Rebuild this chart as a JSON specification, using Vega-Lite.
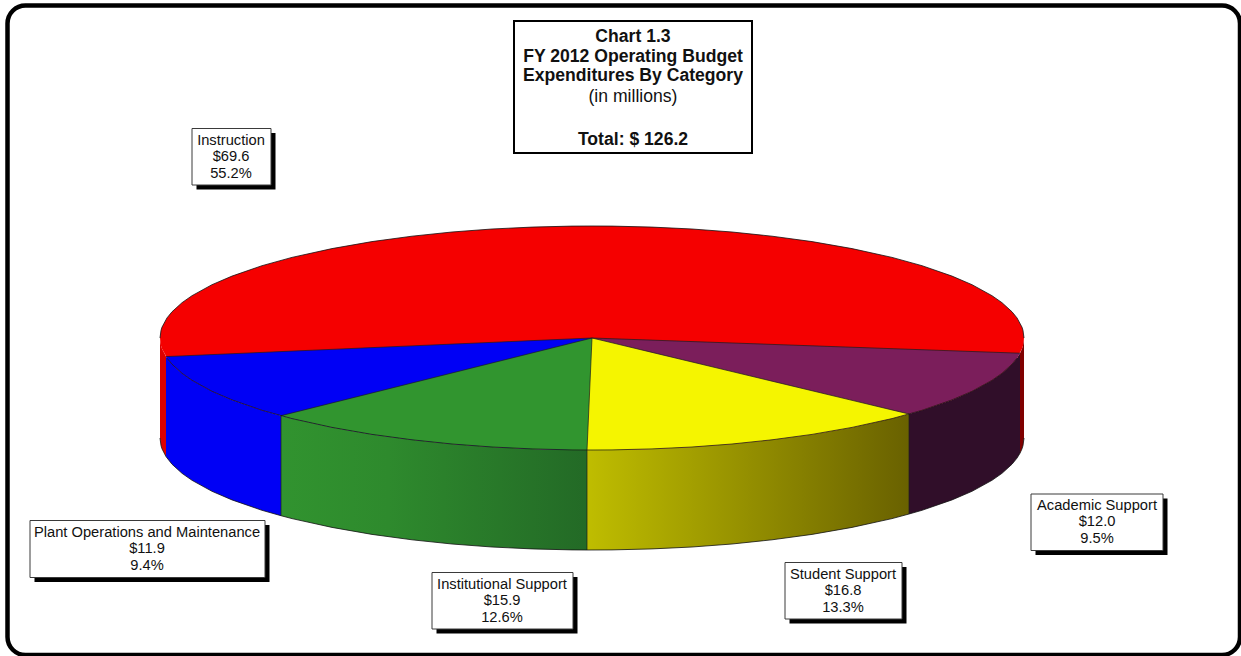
{
  "$schema": "https://vega.github.io/schema/vega-lite/v6.json",
  "width": 1241,
  "height": 656,
  "padding": 0,
  "autosize": "none",
  "background": "white",
  "view": {"stroke": null},
  "config": {"text": {"font": "Liberation Sans", "color": "#111111"}},
  "datasets": {
    "disc": [
      {"x":160,"y":338,"y2":338},{"x":161,"y":330.4,"y2":345.6},{"x":162,"y":327.2,"y2":348.8},{"x":167,"y":317.9,"y2":358.1},{"x":172,"y":311.8,"y2":364.2},{"x":182,"y":302.7,"y2":373.3},{"x":192,"y":295.7,"y2":380.3},{"x":212,"y":284.7,"y2":391.3},{"x":232,"y":276.1,"y2":399.9},{"x":262,"y":265.7,"y2":410.3},{"x":292,"y":257.4,"y2":418.6},{"x":332,"y":248.6,"y2":427.4},{"x":372,"y":241.6,"y2":434.4},{"x":412,"y":236.2,"y2":439.8},{"x":452,"y":232,"y2":444},{"x":492,"y":229,"y2":447},{"x":532,"y":227.1,"y2":448.9},{"x":572,"y":226.1,"y2":449.9},{"x":592,"y":226,"y2":450},
      {"x":612,"y":226.1,"y2":449.9},{"x":652,"y":227.1,"y2":448.9},{"x":692,"y":229,"y2":447},{"x":732,"y":232,"y2":444},{"x":772,"y":236.2,"y2":439.8},{"x":812,"y":241.6,"y2":434.4},{"x":852,"y":248.6,"y2":427.4},{"x":892,"y":257.4,"y2":418.6},{"x":922,"y":265.7,"y2":410.3},{"x":952,"y":276.1,"y2":399.9},{"x":972,"y":284.7,"y2":391.3},{"x":992,"y":295.7,"y2":380.3},{"x":1002,"y":302.7,"y2":373.3},{"x":1012,"y":311.8,"y2":364.2},{"x":1017,"y":317.9,"y2":358.1},{"x":1022,"y":327.2,"y2":348.8},{"x":1023,"y":330.4,"y2":345.6},{"x":1024,"y":338,"y2":338}
    ],
    "walls": [
      {"part":"Instruction left","x":160,"y":338,"y2":438},{"part":"Instruction left","x":161,"y":345.6,"y2":445.6},{"part":"Instruction left","x":162,"y":348.8,"y2":448.8},{"part":"Instruction left","x":166,"y":356.6,"y2":456.6},
      {"part":"Plant","x":166,"y":356.6,"y2":456.6},{"part":"Plant","x":172,"y":364.2,"y2":464.2},{"part":"Plant","x":182,"y":373.3,"y2":473.3},{"part":"Plant","x":192,"y":380.3,"y2":480.3},{"part":"Plant","x":212,"y":391.3,"y2":491.3},{"part":"Plant","x":232,"y":399.9,"y2":499.9},{"part":"Plant","x":262,"y":410.3,"y2":510.3},{"part":"Plant","x":281,"y":415.7,"y2":515.7},
      {"part":"Institutional","x":281,"y":415.7,"y2":515.7},{"part":"Institutional","x":292,"y":418.6,"y2":518.6},{"part":"Institutional","x":332,"y":427.4,"y2":527.4},{"part":"Institutional","x":372,"y":434.4,"y2":534.4},{"part":"Institutional","x":412,"y":439.8,"y2":539.8},{"part":"Institutional","x":452,"y":444,"y2":544},{"part":"Institutional","x":492,"y":447,"y2":547},{"part":"Institutional","x":532,"y":448.9,"y2":548.9},{"part":"Institutional","x":572,"y":449.9,"y2":549.9},{"part":"Institutional","x":587,"y":450,"y2":550},
      {"part":"Student","x":587,"y":450,"y2":550},{"part":"Student","x":612,"y":449.9,"y2":549.9},{"part":"Student","x":652,"y":448.9,"y2":548.9},{"part":"Student","x":692,"y":447,"y2":547},{"part":"Student","x":732,"y":444,"y2":544},{"part":"Student","x":772,"y":439.8,"y2":539.8},{"part":"Student","x":812,"y":434.4,"y2":534.4},{"part":"Student","x":852,"y":427.4,"y2":527.4},{"part":"Student","x":892,"y":418.6,"y2":518.6},{"part":"Student","x":909,"y":414,"y2":514},
      {"part":"Academic","x":909,"y":414,"y2":514},{"part":"Academic","x":922,"y":410.3,"y2":510.3},{"part":"Academic","x":952,"y":399.9,"y2":499.9},{"part":"Academic","x":972,"y":391.3,"y2":491.3},{"part":"Academic","x":992,"y":380.3,"y2":480.3},{"part":"Academic","x":1002,"y":373.3,"y2":473.3},{"part":"Academic","x":1012,"y":364.2,"y2":464.2},{"part":"Academic","x":1017,"y":358.1,"y2":458.1},{"part":"Academic","x":1020,"y":353.2,"y2":453.2},
      {"part":"Instruction right","x":1020,"y":353.2,"y2":453.2},{"part":"Instruction right","x":1022,"y":348.8,"y2":448.8},{"part":"Instruction right","x":1023,"y":345.6,"y2":445.6},{"part":"Instruction right","x":1024,"y":338,"y2":438}
    ],
    "plantSlice": [
      {"x":166,"y":356.6,"y2":356.6},{"x":172,"y":356.3,"y2":364.2},{"x":182,"y":355.9,"y2":373.3},{"x":192,"y":355.5,"y2":380.3},{"x":212,"y":354.6,"y2":391.3},{"x":232,"y":353.7,"y2":399.9},{"x":262,"y":352.4,"y2":410.3},{"x":281,"y":351.6,"y2":415.7},{"x":292,"y":351.1,"y2":418.6},{"x":332,"y":349.4,"y2":427.4},{"x":372,"y":347.6,"y2":434.4},{"x":412,"y":345.9,"y2":439.8},{"x":452,"y":344.1,"y2":444},{"x":492,"y":342.4,"y2":447},{"x":532,"y":340.6,"y2":448.9},{"x":572,"y":338.9,"y2":449.9},{"x":592,"y":338,"y2":450}
    ],
    "institutionalSlice": [
      {"x":281,"y":415.7,"y2":415.7},{"x":292,"y":413,"y2":418.6},{"x":332,"y":403,"y2":427.4},{"x":372,"y":393,"y2":434.4},{"x":412,"y":383,"y2":439.8},{"x":452,"y":373,"y2":444},{"x":492,"y":363,"y2":447},{"x":532,"y":353,"y2":448.9},{"x":572,"y":343,"y2":449.9},{"x":592,"y":338,"y2":450}
    ],
    "academicSlice": [
      {"x":592,"y":338,"y2":450},{"x":612,"y":338.7,"y2":449.9},{"x":652,"y":340.1,"y2":448.9},{"x":692,"y":341.6,"y2":447},{"x":732,"y":343,"y2":444},{"x":772,"y":344.4,"y2":439.8},{"x":812,"y":345.8,"y2":434.4},{"x":852,"y":347.2,"y2":427.4},{"x":892,"y":348.7,"y2":418.6},{"x":909,"y":349.3,"y2":414},{"x":922,"y":349.7,"y2":410.3},{"x":952,"y":350.8,"y2":399.9},{"x":972,"y":351.5,"y2":391.3},{"x":992,"y":352.2,"y2":380.3},{"x":1002,"y":352.6,"y2":373.3},{"x":1012,"y":352.9,"y2":364.2},{"x":1017,"y":353.1,"y2":358.1},{"x":1020,"y":353.2,"y2":353.2}
    ],
    "studentSlice": [
      {"x":587,"y":450,"y2":450},{"x":592,"y":338,"y2":450},{"x":612,"y":342.8,"y2":449.9},{"x":652,"y":352.4,"y2":448.9},{"x":692,"y":362,"y2":447},{"x":732,"y":371.6,"y2":444},{"x":772,"y":381.2,"y2":439.8},{"x":812,"y":390.7,"y2":434.4},{"x":852,"y":400.3,"y2":427.4},{"x":892,"y":409.9,"y2":418.6},{"x":909,"y":414,"y2":414}
    ],
    "seams": [
      {"x":166,"y":356.6,"x2":592,"y2":338},{"x":281,"y":415.7,"x2":592,"y2":338},{"x":587,"y":450,"x2":592,"y2":338},{"x":909,"y":414,"x2":592,"y2":338},{"x":1020,"y":353.2,"x2":592,"y2":338},
      {"x":281,"y":415.7,"x2":281,"y2":515.7},{"x":587,"y":450,"x2":587,"y2":550},{"x":909,"y":414,"x2":909,"y2":514}
    ],
    "callouts": [
      {"category":"Instruction","amount":69.6,"share":0.552,"x":192,"x2":271,"center":231,"y":128.5,"y2":185},
      {"category":"Academic Support","amount":12.0,"share":0.095,"x":1031,"x2":1163,"center":1097,"y":494,"y2":550.5},
      {"category":"Student Support","amount":16.8,"share":0.133,"x":785,"x2":902,"center":843,"y":562.5,"y2":619},
      {"category":"Institutional Support","amount":15.9,"share":0.126,"x":432,"x2":573,"center":502,"y":572.5,"y2":629},
      {"category":"Plant Operations and Maintenance","amount":11.9,"share":0.094,"x":30,"x2":265,"center":147,"y":520.5,"y2":577.5}
    ],
    "titleBox": [{"x":514,"x2":752,"y":21,"y2":153}],
    "titleBold": [
      {"text":"Chart 1.3","x":633,"y":37},
      {"text":"FY 2012 Operating Budget","x":633,"y":57},
      {"text":"Expenditures By Category","x":633,"y":76},
      {"text":"Total: $ 126.2","x":633,"y":140}
    ],
    "titlePlain": [{"text":"(in millions)","x":633,"y":97}],
    "frame": [{"x":7.5,"x2":1240,"y":5.5,"y2":655}]
  },
  "layer": [
    {
      "data": {"name": "frame"},
      "mark": {"type": "rect", "filled": false, "stroke": "black", "strokeWidth": 4.5, "cornerRadius": 18},
      "encoding": {
        "x": {"field": "x", "type": "quantitative", "axis": null, "scale": {"domain": [0, 1241]}},
        "x2": {"field": "x2"},
        "y": {"field": "y", "type": "quantitative", "axis": null, "scale": {"domain": [656, 0]}},
        "y2": {"field": "y2"}
      }
    },
    {
      "data": {"name": "walls"},
      "transform": [{"filter": "datum.part == 'Instruction left'"}],
      "mark": {"type": "area", "fill": "#dd0000"},
      "encoding": {
        "x": {"field": "x", "type": "quantitative", "axis": null, "scale": {"domain": [0, 1241]}},
        "y": {"field": "y", "type": "quantitative", "axis": null, "scale": {"domain": [656, 0]}},
        "y2": {"field": "y2"}
      }
    },
    {
      "data": {"name": "walls"},
      "transform": [{"filter": "datum.part == 'Plant'"}],
      "mark": {"type": "area", "fill": "#0000f5"},
      "encoding": {
        "x": {"field": "x", "type": "quantitative", "axis": null, "scale": {"domain": [0, 1241]}},
        "y": {"field": "y", "type": "quantitative", "axis": null, "scale": {"domain": [656, 0]}},
        "y2": {"field": "y2"}
      }
    },
    {
      "data": {"name": "walls"},
      "transform": [{"filter": "datum.part == 'Institutional'"}],
      "mark": {"type": "area", "fill": {"gradient": "linear", "x1": 0, "x2": 1, "y1": 0, "y2": 0, "stops": [{"offset": 0, "color": "#31932f"}, {"offset": 0.35, "color": "#2e8a2d"}, {"offset": 1, "color": "#236a26"}]}},
      "encoding": {
        "x": {"field": "x", "type": "quantitative", "axis": null, "scale": {"domain": [0, 1241]}},
        "y": {"field": "y", "type": "quantitative", "axis": null, "scale": {"domain": [656, 0]}},
        "y2": {"field": "y2"}
      }
    },
    {
      "data": {"name": "walls"},
      "transform": [{"filter": "datum.part == 'Student'"}],
      "mark": {"type": "area", "fill": {"gradient": "linear", "x1": 0, "x2": 1, "y1": 0, "y2": 0, "stops": [{"offset": 0, "color": "#bfbd00"}, {"offset": 1, "color": "#696100"}]}},
      "encoding": {
        "x": {"field": "x", "type": "quantitative", "axis": null, "scale": {"domain": [0, 1241]}},
        "y": {"field": "y", "type": "quantitative", "axis": null, "scale": {"domain": [656, 0]}},
        "y2": {"field": "y2"}
      }
    },
    {
      "data": {"name": "walls"},
      "transform": [{"filter": "datum.part == 'Academic'"}],
      "mark": {"type": "area", "fill": "#300e29"},
      "encoding": {
        "x": {"field": "x", "type": "quantitative", "axis": null, "scale": {"domain": [0, 1241]}},
        "y": {"field": "y", "type": "quantitative", "axis": null, "scale": {"domain": [656, 0]}},
        "y2": {"field": "y2"}
      }
    },
    {
      "data": {"name": "walls"},
      "transform": [{"filter": "datum.part == 'Instruction right'"}],
      "mark": {"type": "area", "fill": "#800000"},
      "encoding": {
        "x": {"field": "x", "type": "quantitative", "axis": null, "scale": {"domain": [0, 1241]}},
        "y": {"field": "y", "type": "quantitative", "axis": null, "scale": {"domain": [656, 0]}},
        "y2": {"field": "y2"}
      }
    },
    {
      "data": {"name": "disc"},
      "mark": {"type": "area", "fill": "#f50000"},
      "encoding": {
        "x": {"field": "x", "type": "quantitative", "axis": null, "scale": {"domain": [0, 1241]}},
        "y": {"field": "y", "type": "quantitative", "axis": null, "scale": {"domain": [656, 0]}},
        "y2": {"field": "y2"}
      }
    },
    {
      "data": {"name": "plantSlice"},
      "mark": {"type": "area", "fill": "#0000f5"},
      "encoding": {
        "x": {"field": "x", "type": "quantitative", "axis": null, "scale": {"domain": [0, 1241]}},
        "y": {"field": "y", "type": "quantitative", "axis": null, "scale": {"domain": [656, 0]}},
        "y2": {"field": "y2"}
      }
    },
    {
      "data": {"name": "institutionalSlice"},
      "mark": {"type": "area", "fill": "#31952f"},
      "encoding": {
        "x": {"field": "x", "type": "quantitative", "axis": null, "scale": {"domain": [0, 1241]}},
        "y": {"field": "y", "type": "quantitative", "axis": null, "scale": {"domain": [656, 0]}},
        "y2": {"field": "y2"}
      }
    },
    {
      "data": {"name": "academicSlice"},
      "mark": {"type": "area", "fill": "#7b1e5b"},
      "encoding": {
        "x": {"field": "x", "type": "quantitative", "axis": null, "scale": {"domain": [0, 1241]}},
        "y": {"field": "y", "type": "quantitative", "axis": null, "scale": {"domain": [656, 0]}},
        "y2": {"field": "y2"}
      }
    },
    {
      "data": {"name": "studentSlice"},
      "mark": {"type": "area", "fill": "#f5f500"},
      "encoding": {
        "x": {"field": "x", "type": "quantitative", "axis": null, "scale": {"domain": [0, 1241]}},
        "y": {"field": "y", "type": "quantitative", "axis": null, "scale": {"domain": [656, 0]}},
        "y2": {"field": "y2"}
      }
    },
    {
      "data": {"name": "seams"},
      "mark": {"type": "rule", "stroke": "#1c1c1c", "strokeWidth": 0.7},
      "encoding": {
        "x": {"field": "x", "type": "quantitative", "axis": null, "scale": {"domain": [0, 1241]}},
        "x2": {"field": "x2"},
        "y": {"field": "y", "type": "quantitative", "axis": null, "scale": {"domain": [656, 0]}},
        "y2": {"field": "y2"}
      }
    },
    {
      "data": {"name": "disc"},
      "mark": {"type": "line", "stroke": "#111111", "strokeWidth": 0.8},
      "encoding": {
        "x": {"field": "x", "type": "quantitative", "axis": null, "scale": {"domain": [0, 1241]}},
        "y": {"field": "y", "type": "quantitative", "axis": null, "scale": {"domain": [656, 0]}}
      }
    },
    {
      "data": {"name": "disc"},
      "transform": [{"filter": "datum.x >= 167 && datum.x <= 1017"}],
      "mark": {"type": "line", "stroke": "#111111", "strokeWidth": 0.7},
      "encoding": {
        "x": {"field": "x", "type": "quantitative", "axis": null, "scale": {"domain": [0, 1241]}},
        "y": {"field": "y2", "type": "quantitative", "axis": null, "scale": {"domain": [656, 0]}}
      }
    },
    {
      "data": {"name": "walls"},
      "mark": {"type": "line", "stroke": "#111111", "strokeWidth": 0.8},
      "encoding": {
        "x": {"field": "x", "type": "quantitative", "axis": null, "scale": {"domain": [0, 1241]}},
        "y": {"field": "y2", "type": "quantitative", "axis": null, "scale": {"domain": [656, 0]}}
      }
    },
    {
      "data": {"name": "titleBox"},
      "mark": {"type": "rect", "fill": "white", "stroke": "black", "strokeWidth": 2},
      "encoding": {
        "x": {"field": "x", "type": "quantitative", "axis": null, "scale": {"domain": [0, 1241]}},
        "x2": {"field": "x2"},
        "y": {"field": "y", "type": "quantitative", "axis": null, "scale": {"domain": [656, 0]}},
        "y2": {"field": "y2"}
      }
    },
    {
      "data": {"name": "titleBold"},
      "mark": {"type": "text", "fontSize": 17.6, "fontWeight": "bold", "align": "center", "baseline": "middle"},
      "encoding": {
        "x": {"field": "x", "type": "quantitative", "axis": null, "scale": {"domain": [0, 1241]}},
        "y": {"field": "y", "type": "quantitative", "axis": null, "scale": {"domain": [656, 0]}},
        "text": {"field": "text"}
      }
    },
    {
      "data": {"name": "titlePlain"},
      "mark": {"type": "text", "fontSize": 17.6, "align": "center", "baseline": "middle"},
      "encoding": {
        "x": {"field": "x", "type": "quantitative", "axis": null, "scale": {"domain": [0, 1241]}},
        "y": {"field": "y", "type": "quantitative", "axis": null, "scale": {"domain": [656, 0]}},
        "text": {"field": "text"}
      }
    },
    {
      "data": {"name": "callouts"},
      "mark": {"type": "rect", "fill": "black", "xOffset": 4.5, "x2Offset": 4.5, "yOffset": 4.5, "y2Offset": 4.5},
      "encoding": {
        "x": {"field": "x", "type": "quantitative", "axis": null, "scale": {"domain": [0, 1241]}},
        "x2": {"field": "x2"},
        "y": {"field": "y", "type": "quantitative", "axis": null, "scale": {"domain": [656, 0]}},
        "y2": {"field": "y2"}
      }
    },
    {
      "data": {"name": "callouts"},
      "mark": {"type": "rect", "fill": "white", "stroke": "#3a3a3a", "strokeWidth": 1},
      "encoding": {
        "x": {"field": "x", "type": "quantitative", "axis": null, "scale": {"domain": [0, 1241]}},
        "x2": {"field": "x2"},
        "y": {"field": "y", "type": "quantitative", "axis": null, "scale": {"domain": [656, 0]}},
        "y2": {"field": "y2"}
      }
    },
    {
      "data": {"name": "callouts"},
      "mark": {"type": "text", "fontSize": 14.7, "align": "center", "baseline": "middle", "yOffset": 12},
      "encoding": {
        "x": {"field": "center", "type": "quantitative", "axis": null, "scale": {"domain": [0, 1241]}},
        "y": {"field": "y", "type": "quantitative", "axis": null, "scale": {"domain": [656, 0]}},
        "text": {"field": "category"}
      }
    },
    {
      "data": {"name": "callouts"},
      "mark": {"type": "text", "fontSize": 14.7, "align": "center", "baseline": "middle", "yOffset": 28},
      "encoding": {
        "x": {"field": "center", "type": "quantitative", "axis": null, "scale": {"domain": [0, 1241]}},
        "y": {"field": "y", "type": "quantitative", "axis": null, "scale": {"domain": [656, 0]}},
        "text": {"field": "amount", "type": "quantitative", "format": "$.1f"}
      }
    },
    {
      "data": {"name": "callouts"},
      "mark": {"type": "text", "fontSize": 14.7, "align": "center", "baseline": "middle", "yOffset": 45},
      "encoding": {
        "x": {"field": "center", "type": "quantitative", "axis": null, "scale": {"domain": [0, 1241]}},
        "y": {"field": "y", "type": "quantitative", "axis": null, "scale": {"domain": [656, 0]}},
        "text": {"field": "share", "type": "quantitative", "format": ".1%"}
      }
    }
  ]
}
